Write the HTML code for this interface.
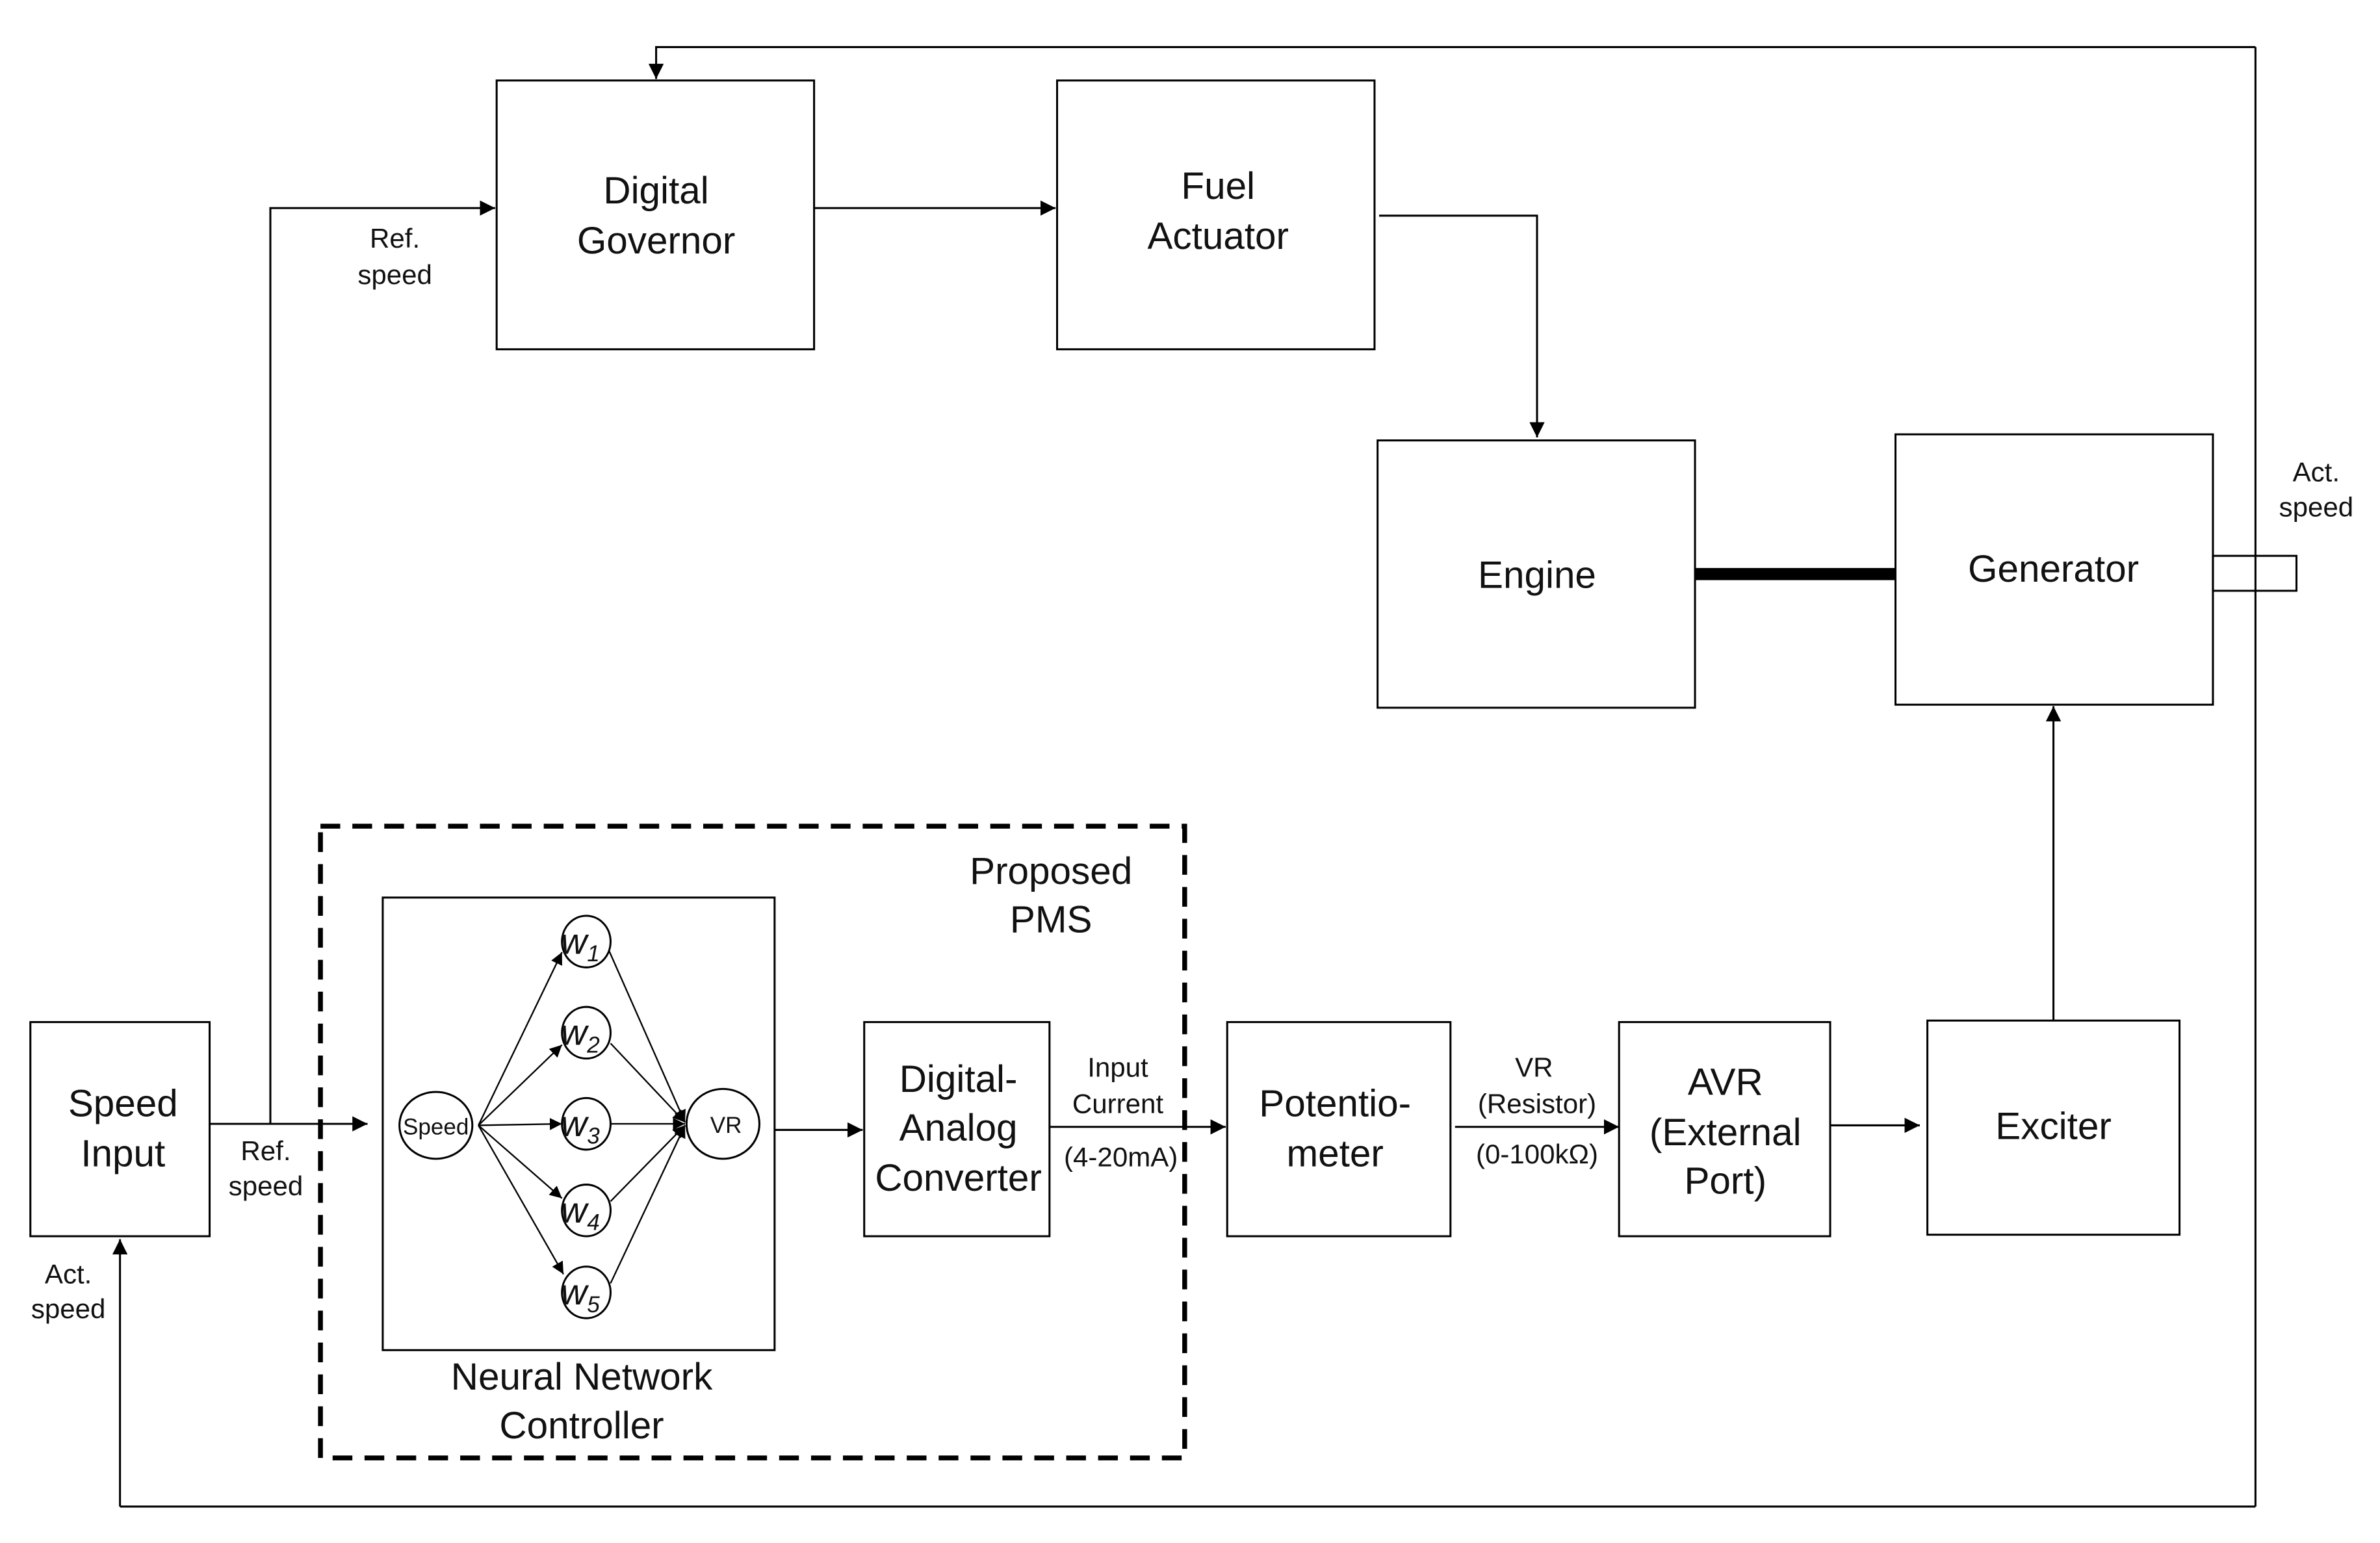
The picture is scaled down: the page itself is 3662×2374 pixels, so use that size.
<!DOCTYPE html>
<html><head><meta charset="utf-8"><style>
html,body{margin:0;padding:0;background:#fff;}
svg{display:block;}
text{font-family:"Liberation Sans","DejaVu Sans",sans-serif;fill:#111;text-anchor:middle;}
.b{font-size:25px;}
.s{font-size:18px;}
</style></head><body>
<svg width="3662" height="2374" viewBox="0 0 1567 1016" preserveAspectRatio="none" xmlns="http://www.w3.org/2000/svg">
<defs>
<marker id="a" viewBox="0 0 10 10" refX="10" refY="5" markerWidth="10" markerHeight="10" markerUnits="userSpaceOnUse" orient="auto"><path d="M0,0L10,5L0,10z" fill="#000"/></marker>
<marker id="m" viewBox="0 0 10 10" refX="10" refY="5" markerWidth="8" markerHeight="8" markerUnits="userSpaceOnUse" orient="auto"><path d="M0,0L10,5L0,10z" fill="#000"/></marker>
</defs>
<g fill="none" stroke="#000" stroke-width="1.3">
<polyline points="1485,31 432,31 432,52" marker-end="url(#a)"/>
<line x1="1485" y1="31" x2="1485" y2="992"/>
<line x1="1485" y1="992" x2="79" y2="992"/>
<line x1="79" y1="992" x2="79" y2="816" marker-end="url(#a)"/>
<rect x="327" y="53" width="209" height="177"/>
<rect x="696" y="53" width="209" height="177"/>
<rect x="907" y="290" width="209" height="176"/>
<rect x="1248" y="286" width="209" height="178"/>
<rect x="1457" y="366" width="55" height="23"/>
<rect x="1269" y="672" width="166" height="141"/>
<rect x="20" y="673" width="118" height="141"/>
<rect x="252" y="591" width="258" height="298"/>
<rect x="569" y="673" width="122" height="141"/>
<rect x="808" y="673" width="147" height="141"/>
<rect x="1066" y="673" width="139" height="141"/>
<rect x="211" y="544" width="569" height="416" stroke-width="3.2" stroke-dasharray="13,8"/>
<line x1="536" y1="137" x2="695" y2="137" marker-end="url(#a)"/>
<polyline points="178,740 178,137 326,137" marker-end="url(#a)"/>
<polyline points="908,142 1012,142 1012,288" marker-end="url(#a)"/>
<line x1="1352" y1="672" x2="1352" y2="465" marker-end="url(#a)"/>
<line x1="138" y1="740" x2="242" y2="740" marker-end="url(#a)"/>
<line x1="510" y1="744" x2="568" y2="744" marker-end="url(#a)"/>
<line x1="691" y1="742" x2="807" y2="742" marker-end="url(#a)"/>
<line x1="958" y1="742" x2="1066" y2="742" marker-end="url(#a)"/>
<line x1="1205" y1="741" x2="1264" y2="741" marker-end="url(#a)"/>
<ellipse cx="287" cy="741" rx="24" ry="22"/>
<ellipse cx="476" cy="740" rx="24" ry="23"/>
<ellipse cx="386" cy="620" rx="16" ry="17"/>
<ellipse cx="386" cy="680" rx="16" ry="17"/>
<ellipse cx="386" cy="740" rx="16" ry="17"/>
<ellipse cx="386" cy="797" rx="16" ry="17"/>
<ellipse cx="386" cy="851" rx="16" ry="17"/>
<g stroke-width="1">
<line x1="315" y1="741" x2="370" y2="627" marker-end="url(#m)"/>
<line x1="315" y1="741" x2="370" y2="688" marker-end="url(#m)"/>
<line x1="315" y1="741" x2="370" y2="740" marker-end="url(#m)"/>
<line x1="315" y1="741" x2="370" y2="789" marker-end="url(#m)"/>
<line x1="315" y1="741" x2="371" y2="839" marker-end="url(#m)"/>
<line x1="401" y1="626" x2="451" y2="739" marker-end="url(#m)"/>
<line x1="402" y1="687" x2="451" y2="739" marker-end="url(#m)"/>
<line x1="402" y1="740" x2="451" y2="740" marker-end="url(#m)"/>
<line x1="402" y1="791" x2="451" y2="741" marker-end="url(#m)"/>
<line x1="402" y1="845" x2="451" y2="741" marker-end="url(#m)"/>
</g>
</g>
<rect x="1116" y="374" width="132" height="8" fill="#000"/>
<text class="b" x="432" y="134">Digital</text>
<text class="b" x="432" y="167">Governor</text>
<text class="b" x="802" y="131">Fuel</text>
<text class="b" x="802" y="164">Actuator</text>
<text class="b" x="1012" y="387">Engine</text>
<text class="b" x="1352" y="383">Generator</text>
<text class="b" x="1352" y="750">Exciter</text>
<text class="b" x="81" y="735">Speed</text>
<text class="b" x="81" y="768">Input</text>
<text class="b" x="692" y="582">Proposed</text>
<text class="b" x="692" y="614">PMS</text>
<text class="b" x="383" y="915">Neural Network</text>
<text class="b" x="383" y="947">Controller</text>
<text class="b" x="631" y="719">Digital-</text>
<text class="b" x="631" y="751">Analog</text>
<text class="b" x="631" y="784">Converter</text>
<text class="b" x="879" y="735">Potentio-</text>
<text class="b" x="879" y="768">meter</text>
<text class="b" x="1136" y="721">AVR</text>
<text class="b" x="1136" y="754">(External</text>
<text class="b" x="1136" y="786">Port)</text>
<text class="s" x="260" y="163">Ref.</text>
<text class="s" x="260" y="187">speed</text>
<text class="s" x="175" y="764">Ref.</text>
<text class="s" x="175" y="787">speed</text>
<text class="s" x="45" y="845">Act.</text>
<text class="s" x="45" y="868">speed</text>
<text class="s" x="1525" y="317">Act.</text>
<text class="s" x="1525" y="340">speed</text>
<text class="s" x="736" y="709">Input</text>
<text class="s" x="736" y="733">Current</text>
<text class="s" x="738" y="768">(4-20mA)</text>
<text class="s" x="1010" y="709">VR</text>
<text class="s" x="1012" y="733">(Resistor)</text>
<text class="s" x="1012" y="766">(0-100kΩ)</text>
<text x="287" y="747" style="font-size:15px">Speed</text>
<text x="478" y="746" style="font-size:15px">VR</text>
<g style="font-family:'Liberation Serif',serif;font-style:italic;font-size:24px">
<text x="382" y="628">w<tspan font-size="15" dy="5">1</tspan></text>
<text x="382" y="688">w<tspan font-size="15" dy="5">2</tspan></text>
<text x="382" y="748">w<tspan font-size="15" dy="5">3</tspan></text>
<text x="382" y="805">w<tspan font-size="15" dy="5">4</tspan></text>
<text x="382" y="859">w<tspan font-size="15" dy="5">5</tspan></text>
</g>
</svg>
</body></html>
